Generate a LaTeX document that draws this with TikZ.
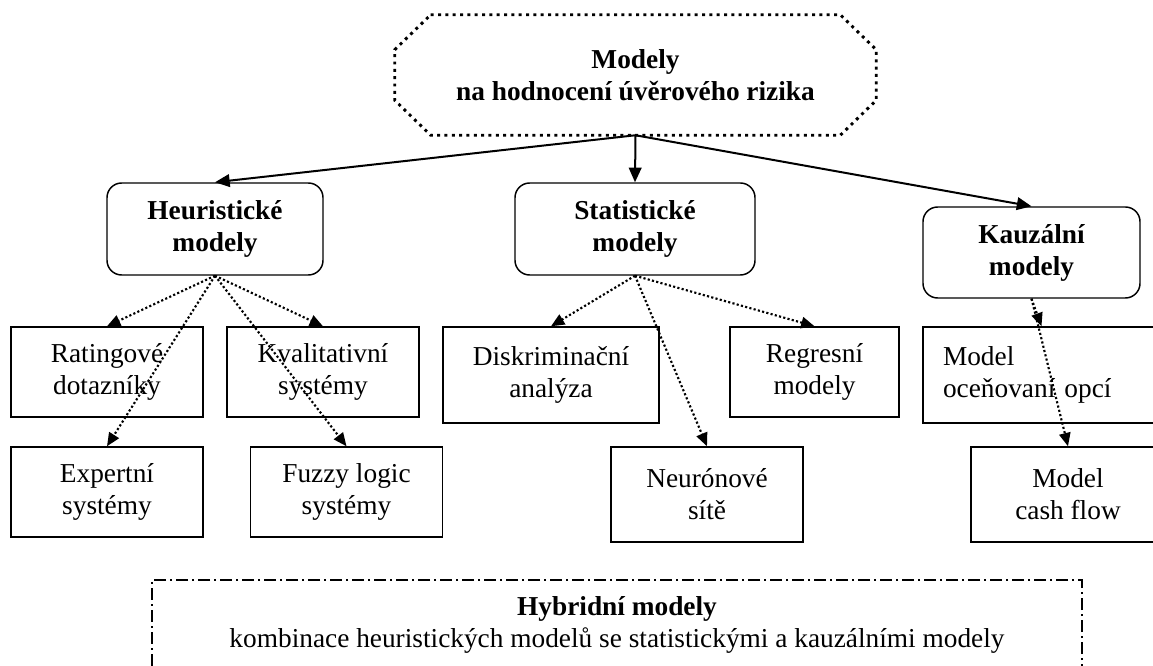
\documentclass[tikz,border=0pt]{standalone}
\usepackage{fontspec}
\setmainfont{Liberation Serif}
\usepackage{tikz}
\usetikzlibrary{arrows.meta,calc}

\begin{document}
\begin{tikzpicture}[
x=0.75pt,y=-0.75pt,
every node/.style={font=\fontsize{20.5}{24}\selectfont, align=center, inner sep=0pt},
root/.style={rectangle, minimum width=360.75pt, minimum height=90pt, font=\fontsize{20.5}{24}\selectfont\bfseries},
rootline/.style={line width=2.2pt, dash pattern=on 2.2pt off 3.3pt},
grp/.style={rectangle, rounded corners=11pt, draw, line width=1.1pt, minimum height=69pt, font=\fontsize{20.5}{24}\selectfont\bfseries},
leaf/.style={rectangle, draw, line width=1.1pt, minimum width=144pt, minimum height=67.5pt},
hyb/.style={rectangle, draw, line width=0.9pt, dash pattern=on 9pt off 3pt on 1.5pt off 3pt, minimum width=697.5pt, minimum height=67.5pt},
main/.style={-{Triangle[length=11pt,width=9.5pt]}, line width=1.5pt},
sub/.style={-{Triangle[length=10pt,width=8.5pt]}, line width=1.6pt, dash pattern=on 1.6pt off 1.7pt},
]
\useasboundingbox (0,0) rectangle (1153,666);

%root
\node(root)[root] at (635.5,75){Modely\\na hodnocení úvěrového rizika};
\draw[rootline] ($(root.north west)+(36,0)$) -- ($(root.north east)+(-36,0)$)
  -- ($(root.north east)+(0,35)$) -- ($(root.south east)+(0,-35)$)
  -- ($(root.south east)+(-36,0)$) -- ($(root.south west)+(36,0)$)
  -- ($(root.south west)+(0,-35)$) -- ($(root.north west)+(0,35)$) -- cycle;

%groups
\node(heur)[grp, minimum width=162pt] at (215,229){Heuristické\\modely};
\node(stat)[grp, minimum width=180pt] at (635,229){Statistické\\modely};
\node(kauz)[grp, minimum width=162.75pt, minimum height=68.25pt] at (1031.5,252.5){Kauzální\\modely};

%first row
\node(rat)[leaf] at (107,372){Ratingové\\dotazníky};
\node(kval)[leaf] at (323,372){Kvalitativní\\systémy};
\node(disk)[leaf, minimum width=162pt, minimum height=72pt] at (551,375){Diskriminační\\analýza};
\node(regr)[leaf, minimum width=126.75pt] at (814.5,372){Regresní\\modely};
\node(opce)[leaf, minimum height=72pt, inner xsep=15pt, text width=147.75pt, align=left] at (1041.5,375){Model\\oceňovaní opcí};

%second row
\node(exp)[leaf] at (107,492){Expertní\\systémy};
\node(fuzzy)[leaf] at (346.5,492){Fuzzy logic\\systémy};
\node(neur)[leaf, minimum height=71.25pt] at (707,494.5){Neurónové\\sítě};
\node(cash)[leaf, minimum width=145.5pt, minimum height=71.25pt] at (1068,494.5){Model\\cash flow};

%hybrid
\node(hyb)[hyb] at (617,625){\textbf{Hybridní modely}\\kombinace heuristických modelů se statistickými a kauzálními modely};

\draw[main] (root.south) -- (heur.north);
\draw[main] (root.south) -- (stat.north);
\draw[main] (root.south) -- (kauz.north);

\draw[sub] (heur.south) -- (rat.north);
\draw[sub] (heur.south) -- (kval.north);
\draw[sub] (heur.south) -- (exp.north);
\draw[sub] (heur.south) -- (fuzzy.north);
\draw[sub] (stat.south) -- (disk.north);
\draw[sub] (stat.south) -- (neur.north);
\draw[sub] (stat.south) -- (regr.north);
\draw[sub] (kauz.south) -- (opce.north);
\draw[sub] (kauz.south) -- (cash.north);

\end{tikzpicture}
\end{document}
